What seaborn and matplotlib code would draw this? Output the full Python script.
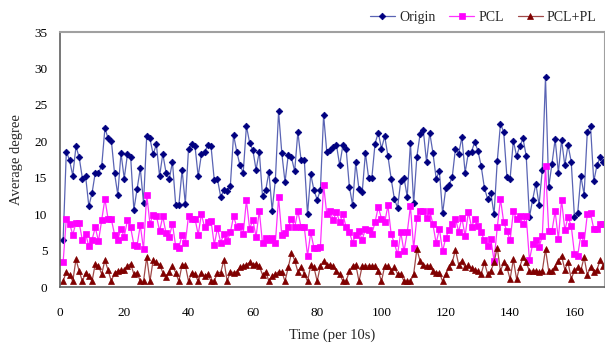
import numpy as np
import pandas as pd
import matplotlib
matplotlib.use("Agg")
import matplotlib.pyplot as plt
import seaborn as sns

origin = [
    6.4, 18.6, 17.4, 15.3, 19.3, 17.8, 14.9, 15.2, 11.1, 12.9,
    15.7, 15.7, 16.6, 21.8, 20.4, 20.1, 15.6, 12.7, 18.4, 14.9,
    18.2, 17.9, 10.6, 13.5, 16.3, 11.6, 20.8, 20.4, 18.2, 19.6,
    15.2, 18.3, 15.7, 14.8, 17.2, 11.3, 11.3, 16.1, 11.4, 19.0,
    19.6,
    19.4, 15.2, 18.2, 18.5, 19.5, 19.3, 14.7, 14.8, 12.4, 13.3,
    13.2, 13.9, 20.9, 18.6, 16.7, 15.7, 22.1, 19.8, 18.8, 16.1,
    18.6, 12.5, 13.3, 15.8, 10.5, 14.7, 24.1, 18.4, 14.4, 18.1,
    17.8, 15.9, 21.3, 17.4, 17.4, 10.0, 15.5, 13.3, 12.0, 13.3,
    23.6, 18.5,
    18.8, 19.2, 19.5, 16.7, 19.5, 19.0, 13.8, 11.3, 17.1, 13.4,
    13.0, 18.4, 15.0, 15.0, 19.7, 21.2, 19.0, 20.7, 18.0, 14.9,
    12.1, 10.9, 14.6, 15.0, 12.4, 19.8, 11.5, 17.9, 21.0, 21.5,
    17.2, 21.2, 18.4, 14.9, 15.9, 10.1, 13.6, 14.0, 15.1, 19.0,
    18.3, 20.6,
    15.7, 18.4, 18.6, 19.9, 18.7, 16.6, 13.6, 12.1, 12.9, 10.0,
    17.3, 22.4, 21.3, 15.1, 14.9, 20.1, 18.0, 19.3, 20.4, 18.0,
    9.6, 12.0, 14.2, 11.3, 16.1, 28.8, 13.7, 16.9, 20.3, 15.7,
    20.2, 16.7, 19.5, 17.2, 9.6, 10.1, 15.2, 12.7, 21.3, 22.1,
    14.5, 16.7, 17.8, 17.2,
]

pcl = [
    3.4, 9.4, 8.7, 7.2, 8.8, 8.8, 6.4, 7.3, 5.6, 6.5,
    8.2, 6.3, 9.2, 12.1, 9.3, 9.3, 7.2, 6.5, 8.0, 6.9,
    9.2, 8.2, 5.8, 5.7, 8.5, 5.2, 12.7, 8.7, 9.9, 9.8,
    7.7, 9.7, 7.4, 6.9, 8.7, 5.6, 5.4, 7.2, 6.0, 9.8,
    9.3,
    9.4, 7.2, 10.0, 8.2, 9.0, 9.1, 5.8, 8.1, 6.1, 7.3,
    6.3, 7.5, 9.7, 8.3, 8.4, 7.3, 11.9, 8.0, 9.2, 6.9,
    10.5, 6.0, 6.7, 6.5, 6.7, 6.1, 12.3, 7.1, 7.4, 8.2,
    9.4, 8.2, 10.4, 8.2, 8.2, 4.3, 7.5, 5.4, 5.4, 5.5,
    14.0, 10.0,
    10.5, 9.2, 10.3, 8.9, 10.0, 8.2, 7.6, 6.1, 7.2, 7.7,
    6.5, 8.0, 7.8, 7.3, 8.9, 11.0, 9.4, 8.9, 11.2, 7.3,
    6.0, 4.5, 7.5, 4.9, 7.5, 11.1, 5.3, 9.5, 10.5, 10.5,
    9.5, 10.5, 8.6, 6.0, 8.0, 4.9, 6.8, 7.8, 8.6, 9.4,
    7.6, 9.5,
    7.0, 10.3, 8.3, 9.3, 8.4, 7.5, 6.4, 5.7, 6.6, 3.6,
    8.2, 12.1, 8.9, 7.7, 6.4, 10.4, 9.3, 9.7, 8.7, 9.7,
    3.7, 5.9, 6.4, 5.5, 7.0, 16.6, 7.7, 7.7, 10.4, 6.6,
    12.0, 7.8, 9.6, 8.4, 4.6, 4.3, 7.2, 6.1, 10.0, 10.1,
    8.0, 8.0, 8.6, 8.7,
]

pcl_pl = [
    0.8, 2.1, 1.7, 0.8, 3.8, 2.2, 0.8, 2.0, 1.5, 0.8,
    3.2, 2.9, 1.8, 3.7, 2.3, 0.8, 2.0, 2.2, 2.3, 2.3,
    2.9, 3.2, 1.8, 2.0, 0.8, 0.8, 4.1, 0.8, 3.7, 3.4,
    3.1, 2.0, 1.4, 2.1, 2.9, 2.0, 0.8, 3.1, 3.0, 0.8,
    2.0,
    1.8, 0.8, 2.0, 1.5, 1.8, 0.8, 0.8, 2.0, 2.0, 3.7,
    0.8, 2.1, 2.0, 2.1, 2.7, 2.9, 3.1, 3.4, 3.1, 3.2,
    2.9, 1.7, 2.1, 0.8, 1.5, 1.8, 2.1, 2.1, 0.8, 2.7,
    4.7, 3.7, 2.1, 2.8, 1.8, 0.8, 3.0, 2.7, 0.8, 2.9,
    3.6, 3.0,
    3.1, 2.9, 2.2, 1.8, 0.8, 0.8, 2.2, 2.9, 3.1, 0.8,
    2.9, 2.9, 2.9, 2.9, 2.9, 2.2, 0.8, 2.9, 2.9, 2.2,
    2.7, 1.8, 1.8, 0.8, 0.8, 0.8, 1.8, 5.2, 3.6, 3.1,
    2.9, 2.9, 2.2, 2.0, 2.0, 0.8, 1.8, 2.7, 3.4, 5.1,
    3.1, 3.6,
    2.7, 3.0, 2.6, 2.4, 2.2, 1.8, 3.4, 1.8, 2.2, 3.4,
    5.4, 2.2, 3.4, 2.7, 1.1, 3.8, 1.1, 2.8, 4.1, 3.4,
    2.2, 2.2, 2.2, 2.1, 2.2, 5.2, 2.2, 2.2, 2.8, 3.6,
    4.3, 2.4, 3.4, 1.1, 2.3, 2.7, 2.3, 4.1, 1.7, 2.7,
    2.1, 2.4, 3.7, 2.9,
]

series_names = ["Origin", "PCL", "PCL+PL"]
x_ticks = [0, 20, 40, 60, 80, 100, 120, 140, 160]
y_ticks = [0, 5, 10, 15, 20, 25, 30, 35]

time = np.arange(1, len(origin) + 1)
df = pd.DataFrame({
    "time": np.concatenate([time, time, time]),
    "value": origin + pcl + pcl_pl,
    "series": [series_names[0]] * len(origin) + [series_names[1]] * len(pcl) + [series_names[2]] * len(pcl_pl),
})

sns.set_style("white")
plt.rcParams["font.family"] = ["Liberation Serif", "DejaVu Serif"]

fig = plt.figure(figsize=(6.05, 3.48), dpi=100)
ax = fig.add_axes([0.099, 0.175, 0.901, 0.733])

styles = {
    "Origin": dict(line="#5a64b4", mk="#000080", marker="D", ms=3.4),
    "PCL": dict(line="#ff33ff", mk="#ff00ff", marker="s", ms=3.8),
    "PCL+PL": dict(line="#a04848", mk="#800000", marker="^", ms=4.5),
}
for name in series_names:
    st = styles[name]
    sub = df[df["series"] == name]
    sns.lineplot(data=sub, x="time", y="value", ax=ax, color=st["line"], lw=0.9,
                 marker=st["marker"], markersize=st["ms"], markerfacecolor=st["mk"],
                 markeredgecolor=st["mk"], markeredgewidth=0.5, label=name)

ax.set_xlim(0, 169.5)
ax.set_ylim(0, 35)
ax.set_xticks(x_ticks)
ax.set_yticks(y_ticks)
ax.tick_params(axis="both", direction="in", length=3, labelsize=9.5, colors="black")
ax.tick_params(axis="x", pad=14)
ax.tick_params(axis="y", pad=9)
ax.set_xlabel("Time (per 10s)", fontsize=10.5, labelpad=7)
ax.set_ylabel("Average degree", fontsize=10.5, labelpad=8)

for s in ["top", "right"]:
    ax.spines[s].set_color("#a0a0a0")
    ax.spines[s].set_linewidth(1.5)
for s in ["left", "bottom"]:
    ax.spines[s].set_color("#606060")
    ax.spines[s].set_linewidth(1.2)

leg = ax.legend(loc="lower right", bbox_to_anchor=(1.0, 1.0), ncol=3, frameon=False,
                fontsize=10, handlelength=1.8, columnspacing=1.0, handletextpad=0.3,
                borderaxespad=0.2)

fig.savefig("out.png", dpi=100)
